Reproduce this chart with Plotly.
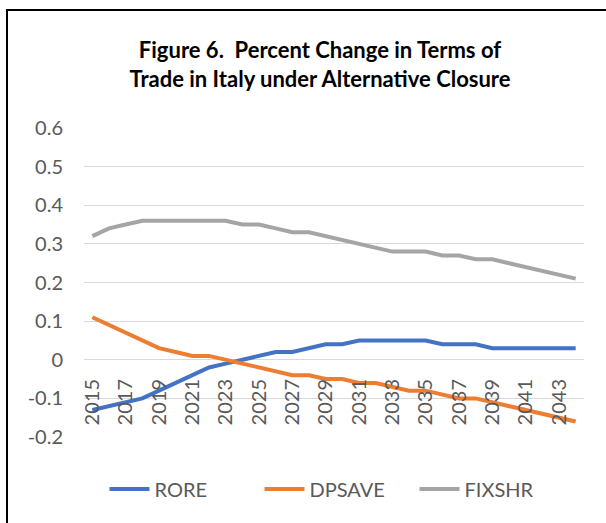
import plotly.graph_objects as go

# Terms-of-trade response, percent change from baseline, 2015-2044
years = list(range(2015, 2045))

rore = [-0.13, -0.12, -0.11, -0.10, -0.08, -0.06, -0.04, -0.02, -0.01, 0.00,
        0.01, 0.02, 0.02, 0.03, 0.04, 0.04, 0.05, 0.05, 0.05, 0.05,
        0.05, 0.04, 0.04, 0.04, 0.03, 0.03, 0.03, 0.03, 0.03, 0.03]

dpsave = [0.11, 0.09, 0.07, 0.05, 0.03, 0.02, 0.01, 0.01, 0.00, -0.01,
          -0.02, -0.03, -0.04, -0.04, -0.05, -0.05, -0.06, -0.06, -0.07, -0.08,
          -0.08, -0.09, -0.10, -0.10, -0.11, -0.12, -0.13, -0.14, -0.15, -0.16]

fixshr = [0.32, 0.34, 0.35, 0.36, 0.36, 0.36, 0.36, 0.36, 0.36, 0.35,
          0.35, 0.34, 0.33, 0.33, 0.32, 0.31, 0.30, 0.29, 0.28, 0.28,
          0.28, 0.27, 0.27, 0.26, 0.26, 0.25, 0.24, 0.23, 0.22, 0.21]

series_names = ["RORE", "DPSAVE", "FIXSHR"]
series_values = [rore, dpsave, fixshr]
series_colors = ["#4472C4", "#ED7D31", "#A5A5A5"]

x_ticks = list(range(2015, 2045, 2))
y_ticks = [-0.2, -0.1, 0, 0.1, 0.2, 0.3, 0.4, 0.5, 0.6]
y_tick_text = ["-0.2", "-0.1", "0", "0.1", "0.2", "0.3", "0.4", "0.5", "0.6"]

W, H = 606, 523
ML, MR, MT, MB = 84, 22, 128, 86
PW, PH = W - ML - MR, H - MT - MB


def px_x(px):
    return (px - ML) / PW


def px_y(py):
    return (H - MB - py) / PH


FONT = "Lato"
TEXT_GRAY = "#595959"

fig = go.Figure()
for name, vals, col in zip(series_names, series_values, series_colors):
    fig.add_trace(go.Scatter(
        x=years, y=vals, name=name, mode="lines",
        line=dict(color=col, width=4, shape="linear"),
    ))

fig.update_layout(
    width=W, height=H,
    margin=dict(l=ML, r=MR, t=MT, b=MB, pad=0),
    paper_bgcolor="white", plot_bgcolor="white",
    font=dict(family=FONT, size=20, color=TEXT_GRAY),
    title=dict(
        text="Figure 6.\u00a0 Percent Change in Terms of<br>Trade in Italy under Alternative Closure",
        font=dict(family=FONT, size=22, color="#000000", weight="bold"),
        xref="container", yref="container",
        x=320 / W, xanchor="center",
        y=1 - 58 / H, yanchor="top",
    ),
    showlegend=True,
    legend=dict(
        orientation="h",
        x=px_x(337), xanchor="center",
        y=px_y(489), yanchor="middle",
        font=dict(family=FONT, size=20, color=TEXT_GRAY),
        bgcolor="rgba(0,0,0,0)",
        itemwidth=40,
        entrywidth=100, entrywidthmode="pixels",
    ),
    xaxis=dict(
        range=[2014.5, 2044.5],
        tickmode="array", tickvals=x_ticks,
        ticktext=[str(v) for v in x_ticks],
        tickangle=-90,
        showgrid=False, zeroline=False, showline=False,
        ticks="", ticklabelstandoff=14,
        anchor="free", position=px_y(360),
        tickfont=dict(family=FONT, size=20, color=TEXT_GRAY),
    ),
    yaxis=dict(
        range=[-0.2, 0.6],
        tickmode="array", tickvals=y_ticks, ticktext=y_tick_text,
        showgrid=True, gridcolor="#D9D9D9", gridwidth=1.3,
        zeroline=False, showline=False, ticks="",
        ticklabelstandoff=20,
        tickfont=dict(family=FONT, size=20, color=TEXT_GRAY),
    ),
    shapes=[
        # chart-area frame (left and top edges fall inside the page)
        dict(type="rect", xref="paper", yref="paper",
             x0=px_x(7), x1=px_x(W + 40), y0=px_y(H + 40), y1=px_y(10),
             line=dict(color="black", width=2), fillcolor="rgba(0,0,0,0)",
             layer="above"),
    ],
)

fig.write_html("out.html")
